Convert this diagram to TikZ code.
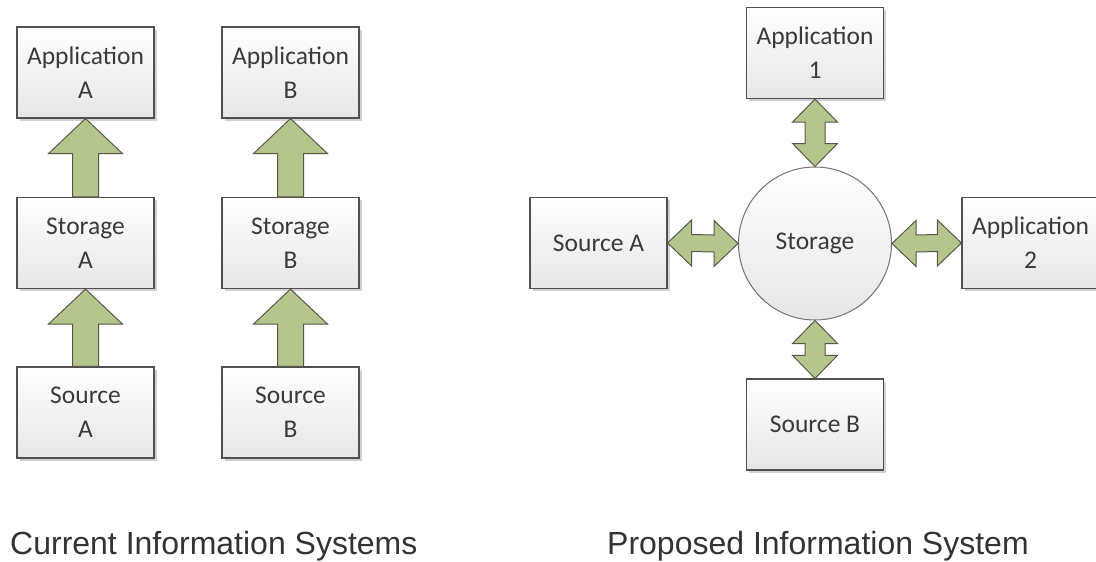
\documentclass[tikz,border=0pt]{standalone}
\usepackage{fontspec}
\setmainfont{Carlito}
\newfontfamily\capfont{Liberation Sans}
\usetikzlibrary{calc,shadows,shapes.geometric}
\definecolor{boxline}{HTML}{505050}
\definecolor{txt}{HTML}{3A3A3A}
\definecolor{arrfill}{HTML}{B5C68C}
\definecolor{arrline}{HTML}{55584A}
\definecolor{boxbot}{HTML}{E6E6E6}
\tikzset{
  blk/.style={draw=boxline, line width=1.2pt, top color=white, bottom color=boxbot,
    minimum width=137pt, minimum height=91pt, inner sep=0pt, align=center,
    text=txt, font=\fontsize{25.5}{34}\selectfont,
    drop shadow={shadow xshift=2.5pt, shadow yshift=-2.5pt, fill=black!18, opacity=1}},
  circ/.style={draw=boxline!80, line width=1pt, circle, top color=white, bottom color=boxbot,
    minimum size=153pt, inner sep=0pt, text=txt, font=\fontsize{25.5}{34}\selectfont},
  blockarrow/.style={fill=arrfill, draw=arrline, line width=1pt, line join=miter},
  caption/.style={anchor=base west, inner sep=0pt, text=black!80,
    font=\capfont\fontsize{32}{36}\selectfont}
}
\begin{document}
\begin{tikzpicture}[x=1pt,y=-1pt]
\useasboundingbox (0,0) rectangle (1096,562);
% left: current systems
\node[blk] (appA) at (85.5,72.5) {Application\\A};
\node[blk] (storA) at (85.5,243) {Storage\\A};
\node[blk] (srcA) at (85.5,412.5) {Source\\A};
\node[blk] (appB) at (290.5,72.5) {Application\\B};
\node[blk] (storB) at (290.5,243) {Storage\\B};
\node[blk] (srcB) at (290.5,412.5) {Source\\B};
% single up arrows
\foreach \lo/\hi in {storA/appA, srcA/storA, storB/appB, srcB/storB}{
  \draw[blockarrow] (\hi.south) -- ($(\hi.south)+(37,35)$) -- ($(\hi.south)+(13,35)$)
    -- ($(\lo.north)+(13,0)$) -- ($(\lo.north)+(-13,0)$) -- ($(\hi.south)+(-13,35)$)
    -- ($(\hi.south)+(-37,35)$) -- cycle;
}
% right: proposed system
\node[circ] (stor) at (815,243.5) {Storage};
\node[blk] (app1) at (815,53) {Application\\1};
\node[blk] (srcPA) at (598.5,243) {Source A};
\node[blk] (app2) at (1030.5,243) {Application\\2};
\node[blk] (srcPB) at (815,424.5) {Source B};
% vertical double arrows
\foreach \t/\b in {app1/stor, stor/srcPB}{
  \draw[blockarrow] (\t.south) -- ($(\t.south)+(22.5,23)$) -- ($(\t.south)+(10,23)$)
    -- ($(\b.north)+(10,-23)$) -- ($(\b.north)+(22.5,-23)$) -- (\b.north)
    -- ($(\b.north)+(-22.5,-23)$) -- ($(\b.north)+(-10,-23)$)
    -- ($(\t.south)+(-10,23)$) -- ($(\t.south)+(-22.5,23)$) -- cycle;
}
% horizontal double arrows
\foreach \l/\r in {srcPA/stor, stor/app2}{
  \draw[blockarrow] (\l.east) -- ($(\l.east)+(24,-23)$) -- ($(\l.east)+(24,-8.5)$)
    -- ($(\r.west)+(-24,-8.5)$) -- ($(\r.west)+(-24,-23)$) -- (\r.west)
    -- ($(\r.west)+(-24,23)$) -- ($(\r.west)+(-24,8.5)$)
    -- ($(\l.east)+(24,8.5)$) -- ($(\l.east)+(24,23)$) -- cycle;
}
% captions
\node[caption] (capL) at (10,554) {Current Information Systems};
\node[caption] (capR) at (607,554) {Proposed Information System};
\end{tikzpicture}
\end{document}
